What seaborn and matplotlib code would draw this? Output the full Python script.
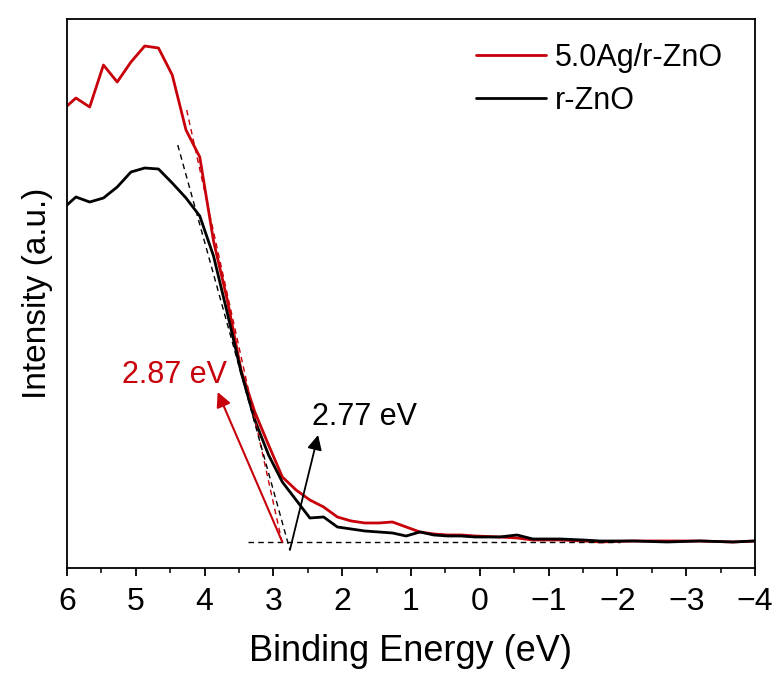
import matplotlib
matplotlib.use("Agg")
import matplotlib.pyplot as plt
import numpy as np
import pandas as pd
import seaborn as sns
from matplotlib.ticker import MultipleLocator

sns.set_theme(style="ticks")
plt.rcParams["font.family"] = ["Liberation Sans", "DejaVu Sans"]
plt.rcParams["text.color"] = "black"
plt.rcParams["axes.labelcolor"] = "black"

RED = "#c8000a"

# binding energy (eV)
energy = [6.00, 5.87, 5.67, 5.47, 5.27, 5.07, 4.87, 4.67, 4.47, 4.27, 4.07,
          3.87, 3.67, 3.47, 3.27, 3.07, 2.87, 2.67, 2.47, 2.27, 2.07, 1.87,
          1.67, 1.47, 1.27, 1.07, 0.87, 0.67, 0.47, 0.27, 0.07, -0.29, -0.54,
          -0.77, -1.17, -1.50, -1.75, -2.23, -2.72, -3.20, -3.68, -4.00]

ag_zno = [462, 470, 461, 503, 486, 506, 522, 520, 493, 438, 411,
          327, 268, 198, 156, 123, 91, 78, 68, 61, 51, 47,
          45, 45, 46, 41, 36, 34, 33, 33, 32, 31, 30,
          28, 28, 27, 26, 27, 27, 27, 26, 27]

r_zno = [363, 371, 366, 370, 381, 396, 400, 399, 385, 370, 352,
         312, 255, 196, 148, 113, 86, 68, 50, 51, 41, 39,
         37, 36, 35, 32, 36, 33, 32, 32, 31, 31, 33,
         29, 29, 28, 27, 27, 26, 27, 26, 27]

series = ["5.0Ag/r-ZnO", "r-ZnO"]

# tangent (linear extrapolation) lines and baseline
tangent_red = ([4.26, 2.875], [458, 26])
tangent_black = ([4.39, 2.76], [423, 18])
baseline = ([3.37, -2.04], [26, 26])

df = pd.DataFrame({
    "energy": energy * 2,
    "intensity": ag_zno + r_zno,
    "sample": [series[0]] * len(energy) + [series[1]] * len(energy),
})

fig, ax = plt.subplots(figsize=(7.77, 6.79), dpi=100)
fig.subplots_adjust(left=0.0862, right=0.9717, bottom=0.1635, top=0.972)

sns.lineplot(data=df, x="energy", y="intensity", hue="sample",
             palette={series[0]: RED, series[1]: "black"},
             sort=False, estimator=None, linewidth=2.0, ax=ax)

ax.plot(*tangent_red, color=RED, ls=(0, (4, 3)), lw=1.0)
ax.plot(*tangent_black, color="black", ls=(0, (4, 3)), lw=1.0)
ax.plot(*baseline, color="black", ls=(0, (4, 3)), lw=1.0)

ax.annotate("", xy=(3.81, 176), xytext=(2.87, 26),
            arrowprops=dict(arrowstyle="-|>", color=RED, lw=1.5,
                            mutation_scale=22, shrinkA=0, shrinkB=0))
ax.annotate("", xy=(2.35, 133), xytext=(2.76, 18),
            arrowprops=dict(arrowstyle="-|>", color="black", lw=1.3,
                            mutation_scale=22, shrinkA=0, shrinkB=0))
ax.text(5.20, 193, "2.87 eV", color=RED, fontsize=22, ha="left", va="center")
ax.text(2.44, 151, "2.77 eV", color="black", fontsize=22, ha="left", va="center")

ax.set_xlim(6, -4)
ax.set_ylim(0, 549)
ax.xaxis.set_major_locator(MultipleLocator(1))
ax.xaxis.set_minor_locator(MultipleLocator(0.5))
ax.set_yticks([])
ax.tick_params(axis="x", which="major", direction="out", length=6, width=1.3,
               labelsize=23, pad=8, colors="black")
ax.tick_params(axis="x", which="minor", direction="out", length=3.5, width=1.3)
for s in ax.spines.values():
    s.set_visible(True)
    s.set_linewidth(1.3)
    s.set_color("black")

ax.set_xlabel("Binding Energy (eV)", fontsize=26, labelpad=12)
ax.set_ylabel("Intensity (a.u.)", fontsize=24, labelpad=10)

leg = ax.legend(loc="upper right", bbox_to_anchor=(0.985, 0.995), frameon=False,
                fontsize=22, handlelength=2.3, handletextpad=0.3,
                labelspacing=0.42, borderaxespad=0.3)
for line in leg.get_lines():
    line.set_linewidth(2.0)

fig.savefig("out.png", dpi=100)
